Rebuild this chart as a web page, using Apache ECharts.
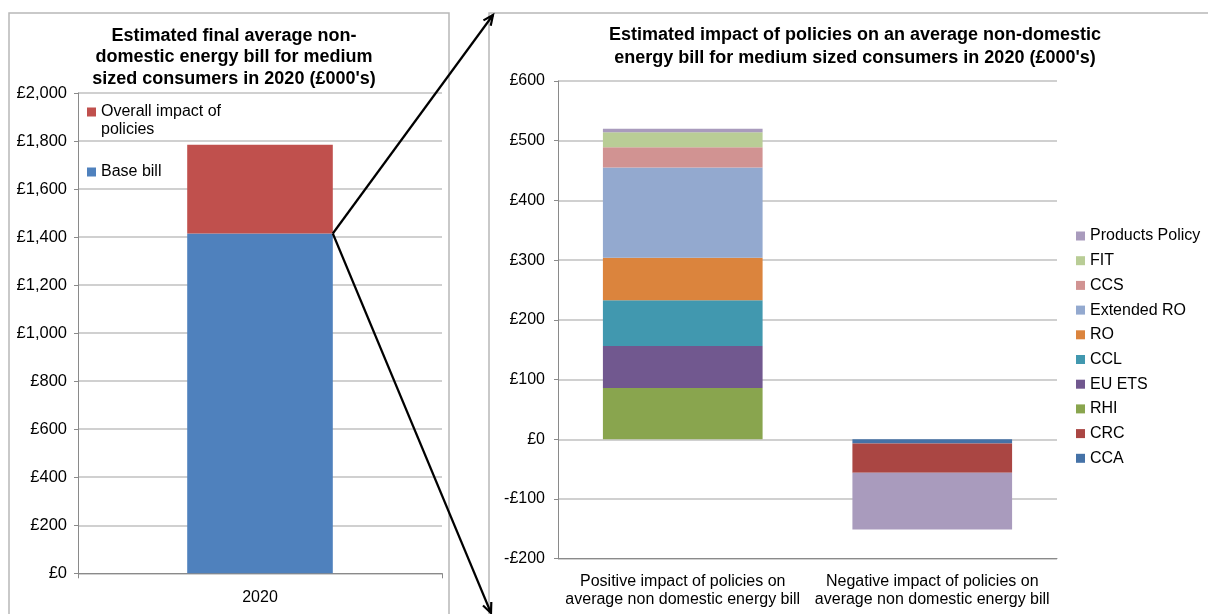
<!DOCTYPE html>
<html>
<head>
<meta charset="utf-8">
<script src="https://cdn.jsdelivr.net/npm/echarts@6/dist/echarts.min.js"></script>
<style>
  html, body { margin: 0; padding: 0; background: #fff; }
  #chart { width: 1208px; height: 614px; }
</style>
</head>
<body>
<div id="chart"></div>
<script>
// Left panel: final average bill (stacked base + policy impact)
const billYears = ['2020'];
const baseBill = [1415];
const overallImpact = [369];

// Right panel: individual policy impacts, positive and negative
const impactCategories = [
  'Positive impact of policies on\naverage non domestic energy bill',
  'Negative impact of policies on\naverage non domestic energy bill'
];
const cca = ['-', -7];
const crc = ['-', -49];
const rhi = [86, '-'];
const euEts = [70, '-'];
const ccl = [77, '-'];
const ro = [71, '-'];
const extendedRo = [151, '-'];
const ccs = [34, '-'];
const fit = [25, '-'];
const productsPolicy = [6, -95];

const legendOrder = ['Products Policy', 'FIT', 'CCS', 'Extended RO', 'RO', 'CCL', 'EU ETS', 'RHI', 'CRC', 'CCA'];

const FONT = "'Liberation Sans', Arial, sans-serif";
const GRID_LINE = '#c0c0c0';
const AXIS_LINE = '#8a8a8a';

function pounds(v) {
  const s = Math.abs(v).toLocaleString('en-GB');
  return (v < 0 ? '-£' : '£') + s;
}

const chart = echarts.init(document.getElementById('chart'), null, { renderer: 'canvas' });

function stackBar(name, data, color) {
  return {
    name, type: 'bar', stack: 'impact', data,
    xAxisIndex: 1, yAxisIndex: 1,
    barCategoryGap: '36%',
    itemStyle: { color },
    emphasis: { disabled: true }
  };
}

// square marker sitting at the top of a tall box, so it lines up with the first text line
const topSquareIcon = 'path://M0 0h9v9H0z M0 27h0.01v0.01H0z';

const option = {
  animation: false,
  textStyle: { fontFamily: FONT },
  title: [
    {
      text: "Estimated final average non-\ndomestic energy bill for medium\nsized consumers in 2020 (£000's)",
      left: 229, top: 20, textAlign: 'center',
      textStyle: { fontFamily: FONT, fontSize: 18, fontWeight: 'bold', color: '#000', lineHeight: 21.5, align: 'center' }
    },
    {
      text: "Estimated impact of policies on an average non-domestic\nenergy bill for medium sized consumers in 2020 (£000's)",
      left: 850, top: 19, textAlign: 'center',
      textStyle: { fontFamily: FONT, fontSize: 18, fontWeight: 'bold', color: '#000', lineHeight: 22.5, align: 'center' }
    }
  ],
  legend: [
    {
      data: ['Overall impact of policies'],
      left: 82, top: 98,
      icon: topSquareIcon, itemWidth: 9, itemHeight: 27,
      selectedMode: false,
      formatter: () => 'Overall impact of\npolicies',
      textStyle: { fontFamily: FONT, fontSize: 16, color: '#000', lineHeight: 18 }
    },
    {
      data: ['Base bill'],
      left: 82, top: 158,
      icon: 'rect', itemWidth: 9, itemHeight: 9,
      selectedMode: false,
      textStyle: { fontFamily: FONT, fontSize: 16, color: '#000', lineHeight: 18 }
    },
    {
      data: legendOrder,
      orient: 'vertical',
      left: 1071, top: 222,
      icon: 'rect', itemWidth: 9, itemHeight: 9,
      itemGap: 6.7,
      selectedMode: false,
      textStyle: { fontFamily: FONT, fontSize: 16, color: '#000', lineHeight: 18 }
    }
  ],
  grid: [
    { left: 78, top: 93, width: 364, height: 480.3 },
    { left: 558, top: 81, width: 499, height: 477.7 }
  ],
  xAxis: [
    {
      type: 'category', gridIndex: 0, data: billYears,
      axisLine: { lineStyle: { color: AXIS_LINE } },
      axisTick: { show: true, length: 5, lineStyle: { color: AXIS_LINE } },
      axisLabel: { color: '#000', fontSize: 16, margin: 16 }
    },
    {
      type: 'category', gridIndex: 1, data: impactCategories,
      position: 'bottom',
      axisLine: { onZero: false, lineStyle: { color: AXIS_LINE } },
      axisTick: { show: false },
      axisLabel: { color: '#000', fontSize: 16, lineHeight: 18, margin: 14, interval: 0 }
    }
  ],
  yAxis: [
    {
      type: 'value', gridIndex: 0, min: 0, max: 2000, interval: 200,
      axisLine: { show: true, lineStyle: { color: AXIS_LINE } },
      axisTick: { show: true, length: 4, lineStyle: { color: AXIS_LINE } },
      splitLine: { lineStyle: { color: GRID_LINE, width: 1.5 } },
      axisLabel: { color: '#000', fontSize: 16.5, margin: 11, formatter: pounds }
    },
    {
      type: 'value', gridIndex: 1, min: -200, max: 600, interval: 100,
      axisLine: { show: true, lineStyle: { color: AXIS_LINE } },
      axisTick: { show: true, length: 4, lineStyle: { color: AXIS_LINE } },
      splitLine: { lineStyle: { color: GRID_LINE, width: 1.5 } },
      axisLabel: { color: '#000', fontSize: 16, margin: 13, formatter: pounds }
    }
  ],
  series: [
    {
      name: 'Base bill', type: 'bar', stack: 'bill', data: baseBill,
      xAxisIndex: 0, yAxisIndex: 0, barWidth: '40%',
      itemStyle: { color: '#4F81BD' }, emphasis: { disabled: true }
    },
    {
      name: 'Overall impact of policies', type: 'bar', stack: 'bill', data: overallImpact,
      xAxisIndex: 0, yAxisIndex: 0, barWidth: '40%',
      itemStyle: { color: '#C0504D' }, emphasis: { disabled: true }
    },
    stackBar('CCA', cca, '#4572A7'),
    stackBar('CRC', crc, '#AA4643'),
    stackBar('RHI', rhi, '#89A54E'),
    stackBar('EU ETS', euEts, '#71588F'),
    stackBar('CCL', ccl, '#4198AF'),
    stackBar('RO', ro, '#DB843D'),
    stackBar('Extended RO', extendedRo, '#93A9CF'),
    stackBar('CCS', ccs, '#D19392'),
    stackBar('FIT', fit, '#B9CD96'),
    stackBar('Products Policy', productsPolicy, '#A99BBD')
  ]
};

chart.setOption(option);

// Panel frames and the two callout arrows from the top of the base bill
const model = chart.getModel();
const band = model.getComponent('xAxis', 0).axis.getBandWidth();
const anchor = chart.convertToPixel({ xAxisIndex: 0, yAxisIndex: 0 }, [0, baseBill[0]]);
const start = [anchor[0] + band * 0.2, anchor[1]];

function arrow(from, to) {
  const dx = to[0] - from[0], dy = to[1] - from[1];
  const len = Math.hypot(dx, dy);
  const ux = dx / len, uy = dy / len;
  const head = 10, spread = 4.5;
  const bx = to[0] - ux * head, by = to[1] - uy * head;
  const px = -uy * spread, py = ux * spread;
  const style = { stroke: '#000', lineWidth: 2.2, fill: null };
  return [
    { type: 'line', shape: { x1: from[0], y1: from[1], x2: to[0], y2: to[1] }, style, z: 100 },
    { type: 'polyline', shape: { points: [[bx + px, by + py], to, [bx - px, by - py]] }, style, z: 100 }
  ];
}

const frameStyle = { stroke: '#b8b8b8', lineWidth: 1.5, fill: null };
chart.setOption({
  graphic: [
    { type: 'rect', shape: { x: 9, y: 13, width: 440, height: 620 }, style: frameStyle, z: 0, silent: true },
    { type: 'rect', shape: { x: 489, y: 13, width: 740, height: 620 }, style: frameStyle, z: 0, silent: true },
    ...arrow(start, [493, 15]),
    ...arrow(start, [491, 613])
  ]
});
</script>
</body>
</html>
